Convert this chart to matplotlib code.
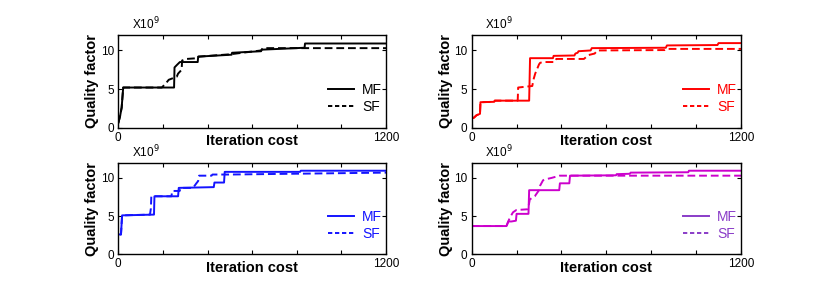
import numpy as np
import matplotlib
matplotlib.use('Agg')
import matplotlib.pyplot as plt
from matplotlib.lines import Line2D

plt.rcParams['font.family'] = ['Liberation Sans', 'DejaVu Sans']

# values (quality factor in units of 1e9)
mf1_x = [0, 8, 15, 22, 250, 252, 262, 276, 356, 358, 508, 510, 640, 643, 835, 837, 1200]
mf1_y = [0.6, 1.5, 2.6, 5.2, 5.2, 7.8, 8.1, 8.5, 8.5, 9.2, 9.45, 9.7, 9.9, 10.1, 10.35, 10.9, 10.9]
sf1_x = [0, 8, 15, 22, 195, 212, 226, 262, 268, 284, 286, 306, 356, 360, 500, 640, 648, 1200]
sf1_y = [0.6, 1.5, 2.6, 5.2, 5.2, 5.7, 6.2, 6.6, 7.0, 7.5, 8.7, 8.9, 9.0, 9.2, 9.5, 10.0, 10.3, 10.3]

mf2_x = [0, 10, 21, 37, 39, 100, 103, 256, 260, 362, 365, 458, 462, 472, 476, 530, 535, 865, 870, 1095, 1100, 1200]
mf2_y = [1.2, 1.3, 1.6, 1.8, 3.3, 3.35, 3.5, 3.5, 9.0, 9.0, 9.3, 9.35, 9.6, 9.7, 9.9, 10.0, 10.3, 10.35, 10.65, 10.7, 10.95, 10.95]
sf2_x = [0, 10, 21, 37, 39, 100, 103, 205, 207, 270, 275, 283, 300, 305, 318, 370, 377, 500, 520, 548, 560, 860, 870, 1200]
sf2_y = [1.2, 1.3, 1.6, 1.8, 3.3, 3.35, 3.5, 3.5, 5.2, 5.4, 6.2, 7.0, 8.2, 8.4, 8.5, 8.5, 8.9, 8.9, 9.4, 9.6, 10.0, 10.05, 10.2, 10.2]

mf3_x = [7, 12, 17, 160, 162, 268, 271, 428, 431, 474, 477, 815, 818, 1200]
mf3_y = [2.6, 2.6, 5.1, 5.2, 7.6, 7.6, 8.7, 8.8, 9.4, 9.4, 10.8, 10.8, 10.95, 10.95]
sf3_x = [7, 12, 17, 142, 146, 148, 238, 242, 275, 280, 335, 350, 358, 362, 418, 422, 500, 1200]
sf3_y = [2.6, 2.6, 5.1, 5.2, 6.0, 7.6, 7.6, 8.3, 8.3, 8.7, 8.7, 9.3, 9.6, 10.3, 10.3, 10.45, 10.45, 10.7]

mf4_x = [0, 155, 163, 177, 197, 200, 253, 256, 390, 393, 435, 438, 643, 646, 705, 708, 965, 968, 1200]
mf4_y = [3.7, 3.7, 4.3, 4.3, 4.4, 5.3, 5.3, 8.4, 8.4, 9.3, 9.3, 10.3, 10.35, 10.5, 10.55, 10.7, 10.75, 10.95, 10.95]
sf4_x = [0, 155, 163, 170, 184, 199, 251, 259, 281, 300, 305, 318, 325, 355, 392, 440, 1200]
sf4_y = [3.7, 3.7, 4.3, 4.8, 5.5, 5.8, 5.9, 7.2, 7.6, 8.4, 9.0, 9.7, 9.8, 10.0, 10.3, 10.3, 10.3]

panels = [
    (mf1_x, mf1_y, sf1_x, sf1_y, 'black', 'black', 'black'),
    (mf2_x, mf2_y, sf2_x, sf2_y, '#ff0000', '#ff0000', '#ff0000'),
    (mf3_x, mf3_y, sf3_x, sf3_y, '#1414ff', '#1414ff', '#1414ff'),
    (mf4_x, mf4_y, sf4_x, sf4_y, '#cc00cc', '#8a3cc8', '#8a3cc8'),
]
labels = ['MF', 'SF']

W, H = 831, 295
boxes = [(118.3, 35, 386, 127.7), (471.7, 35, 741, 127.7),
         (118.3, 162.7, 386, 254.3), (471.7, 162.7, 741, 254.3)]

fig = plt.figure(figsize=(W / 100, H / 100), dpi=100)
dash = (0, (4, 2))
for (mx, my, sx, sy, col, lcol, tcol), (x0, y0, x1, y1) in zip(panels, boxes):
    ax = fig.add_axes([x0 / W, 1 - y1 / H, (x1 - x0) / W, (y1 - y0) / H])
    ax.plot(mx, my, color=col, lw=1.4)
    ax.plot(sx, sy, color=col, lw=1.4, linestyle=dash)
    ax.set_xlim(0, 1200)
    ax.set_ylim(0, 12)
    ax.set_xticks(np.arange(0, 1201, 200))
    ax.set_xticklabels(['0', '', '', '', '', '', '1200'])
    ax.set_yticks([0, 5, 10])
    ax.tick_params(direction='in', top=True, right=True, length=3, width=0.8,
                   labelsize=8.5, pad=3)
    for s in ax.spines.values():
        s.set_linewidth(1.0)
    ax.set_xlabel('Iteration cost', fontsize=10.5, fontweight='bold', labelpad=-7)
    ax.set_ylabel('Quality factor', fontsize=10.5, fontweight='bold', labelpad=1)
    ax.text(0.05, 1.03, r'X10$^{9}$', transform=ax.transAxes, fontsize=8.5,
            ha='left', va='bottom')
    handles = [Line2D([], [], color=lcol, lw=1.4),
               Line2D([], [], color=lcol, lw=1.4, linestyle=(0, (2.2, 1.4)))]
    leg = ax.legend(handles, labels, loc='lower right', bbox_to_anchor=(0.985, 0.15),
                    frameon=False, fontsize=10, handlelength=1.9, handletextpad=0.55,
                    labelspacing=0.2, borderpad=0, borderaxespad=0)
    for t in leg.get_texts():
        t.set_color(tcol)

fig.savefig('out.png', dpi=100)
